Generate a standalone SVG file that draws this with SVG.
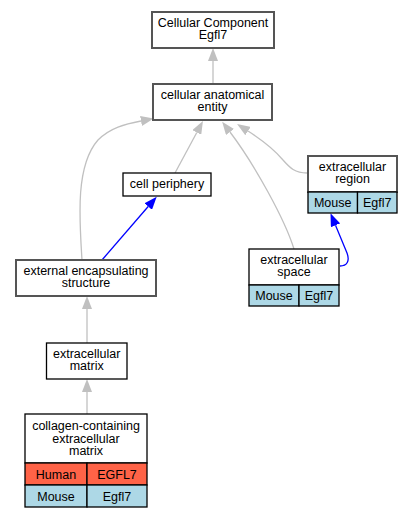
<svg xmlns="http://www.w3.org/2000/svg" width="412" height="517" viewBox="0 0 412 517">
<style>
text{font-family:"Liberation Sans",Arial,sans-serif;font-size:12.5px;text-anchor:middle;fill:#000}
.nb{fill:#fff;stroke:#000;stroke-width:1.3}
.nd{fill:#fff;stroke:#555;stroke-width:2}
.ms{fill:#add8e6;stroke:#000;stroke-width:1.3}
.hs{fill:#ff6347;stroke:#000;stroke-width:1.3}
.eg{fill:none;stroke:#c0c0c0;stroke-width:1.3}
.eb{fill:none;stroke:#0000ff;stroke-width:1.3}
</style>
<defs>
<marker id="ag" markerUnits="userSpaceOnUse" viewBox="0 0 13 10" markerWidth="13" markerHeight="10" refX="0" refY="5" orient="auto"><path d="M0,0 L13,5 L0,10 z" fill="#c0c0c0"/></marker>
<marker id="ab" markerUnits="userSpaceOnUse" viewBox="0 0 13 10" markerWidth="13" markerHeight="10" refX="0" refY="5" orient="auto"><path d="M0,0 L13,5 L0,10 z" fill="#0000ff"/></marker>
</defs>
<rect width="412" height="517" fill="#fff"/>
<g id="edges">
<path class="eg" d="M213,84 L213,61" marker-end="url(#ag)"/>
<path class="eg" d="M175,173 L196.8,132.5" marker-end="url(#ag)"/>
<path class="eg" d="M82,260 C79,215 76,165 98,140 C110,128 125,124 141,121" marker-end="url(#ag)"/>
<path class="eb" d="M102,260 L148.2,206.5" marker-end="url(#ab)"/>
<path class="eg" d="M294,249 C285,220 255,165 230,132" marker-end="url(#ag)"/>
<path class="eg" d="M307,173 C295,173 290,168 283,160 C273,148 262,140 248,131" marker-end="url(#ag)"/>
<path class="eg" d="M87,343 L87,309" marker-end="url(#ag)"/>
<path class="eg" d="M87,414 L87,392" marker-end="url(#ag)"/>
<path class="eb" d="M340,266 C347,266 350,261 347,253 L335.5,225.3" marker-end="url(#ab)"/>
</g>
<g id="cellular_component">
<rect class="nd" x="152" y="12" width="122" height="36"/>
<text x="213" y="26.8">Cellular Component</text>
<text x="213" y="39.3">Egfl7</text>
</g>
<g id="cellular_anatomical_entity">
<rect class="nd" x="153" y="84" width="119" height="36"/>
<text x="212.5" y="98.7">cellular anatomical</text>
<text x="212.5" y="111.2">entity</text>
</g>
<g id="cell_periphery">
<rect class="nb" x="123" y="173" width="88" height="23"/>
<text x="167" y="188.3">cell periphery</text>
</g>
<g id="extracellular_region">
<rect class="nd" x="308" y="156" width="89" height="36"/>
<text x="352.5" y="170.7">extracellular</text>
<text x="352.5" y="183.2">region</text>
<rect class="ms" x="308" y="192" width="49.5" height="21"/>
<rect class="ms" x="357.5" y="192" width="39.5" height="21"/>
<text x="332.7" y="207">Mouse</text>
<text x="377.2" y="207">Egfl7</text>
</g>
<g id="extracellular_space">
<rect class="nb" x="249" y="249" width="90" height="36"/>
<text x="294" y="263.7">extracellular</text>
<text x="294" y="276.2">space</text>
<rect class="ms" x="249" y="285" width="50" height="21"/>
<rect class="ms" x="299" y="285" width="40" height="21"/>
<text x="274" y="300">Mouse</text>
<text x="319" y="300">Egfl7</text>
</g>
<g id="external_encapsulating_structure">
<rect class="nd" x="16" y="260" width="140" height="36"/>
<text x="86" y="274.5">external encapsulating</text>
<text x="86" y="287">structure</text>
</g>
<g id="extracellular_matrix">
<rect class="nb" x="46.5" y="343" width="80.5" height="36"/>
<text x="86.7" y="357.7">extracellular</text>
<text x="86.7" y="370.2">matrix</text>
</g>
<g id="collagen_containing_extracellular_matrix">
<rect class="nb" x="25" y="414" width="122" height="49"/>
<text x="86" y="430">collagen-containing</text>
<text x="86" y="442.5">extracellular</text>
<text x="86" y="455">matrix</text>
<rect class="hs" x="25" y="463" width="62" height="22"/>
<rect class="hs" x="87" y="463" width="60" height="22"/>
<rect class="ms" x="25" y="485" width="62" height="22"/>
<rect class="ms" x="87" y="485" width="60" height="22"/>
<text x="56" y="478.5">Human</text>
<text x="117" y="478.5">EGFL7</text>
<text x="56" y="500.5">Mouse</text>
<text x="117" y="500.5">Egfl7</text>
</g>
</svg>
